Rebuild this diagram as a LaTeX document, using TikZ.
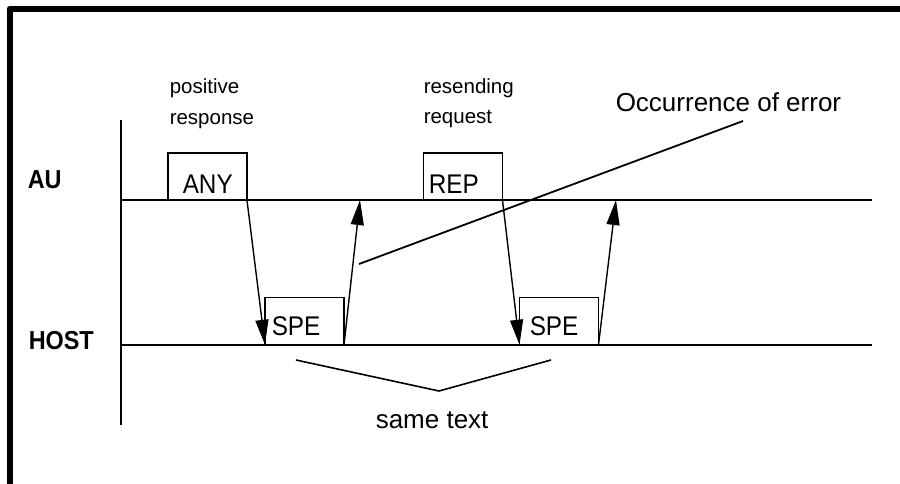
\documentclass[tikz,border=0pt]{standalone}
\usepackage{fontspec}
\setmainfont{Liberation Sans}
\usetikzlibrary{arrows.meta}
\newcommand{\cnd}[1]{\scalebox{0.9}[1]{#1}}
\begin{document}
\begin{tikzpicture}[x=1pt,y=-1pt, line width=1.5pt,
  box/.style={draw, line width=1.5pt, inner sep=0pt, outer sep=0pt, minimum width=79pt, minimum height=47.5pt},
  lbl/.style={inner sep=0pt, anchor=base west},
  side/.style={lbl, font=\bfseries\fontsize{26}{30}\selectfont},
  boxtext/.style={lbl, font=\fontsize{27}{30}\selectfont},
  note/.style={lbl, font=\fontsize{20.5}{24}\selectfont},
  big/.style={lbl, font=\fontsize{26}{30}\selectfont},
  msg/.style={-{Triangle[length=25pt,width=13pt]}, line width=1.4pt}]
\useasboundingbox (0,0) rectangle (900,483);
% frame
\draw[line width=6pt, line join=round] (9.5,495) -- (9.5,8.5) -- (910,8.5);
% axes
\coordinate (axtop) at (121,120);
\coordinate (axbot) at (121,425);
\coordinate (auL) at (121,200);
\coordinate (auR) at (872,200);
\coordinate (hoL) at (121,345);
\coordinate (hoR) at (872,345);
\draw (axtop) -- (axbot);
\draw (auL) -- (auR);
\draw (hoL) -- (hoR);
% side labels
\node[side] (au) at (27,188) {\cnd{AU}};
\node[side] (host) at (28,349) {\cnd{HOST}};
% boxes
\node[box] (any) at (207.5,176.5) {};
\node[box] (rep) at (463,176.5) {};
\node[box] (spe1) at (304.5,321) {};
\node[box] (spe2) at (559,321) {};
\node[boxtext] (anyt) at (182,193) {\cnd{ANY}};
\node[boxtext] (rept) at (428,193) {\cnd{REP}};
\node[boxtext] (spe1t) at (271,335) {\cnd{SPE}};
\node[boxtext] (spe2t) at (529,335) {\cnd{SPE}};
% notes
\node[note] (pos1) at (169,93) {positive};
\node[note] (pos2) at (169,124) {response};
\node[note] (res1) at (423,93) {resending};
\node[note] (res2) at (423,123) {request};
\node[big] (err) at (615,111) {Occurrence of error};
\node[big] (same) at (375,428) {same text};
% messages
\coordinate (r1) at (360,200);
\coordinate (r2) at (616,200);
\draw[msg] (any.south east) -- (spe1.south west);
\draw[msg] (spe1.south east) -- (r1);
\draw[msg] (rep.south east) -- (spe2.south west);
\draw[msg] (spe2.south east) -- (r2);
% error pointer
\coordinate (e1) at (359,264);
\coordinate (e2) at (743,121);
\draw[line width=1.8pt] (e1) -- (e2);
% bracket
\coordinate (b1) at (296,360);
\coordinate (b2) at (439,391);
\coordinate (b3) at (551,360);
\draw[line width=1.6pt] (b1) -- (b2) -- (b3);
\end{tikzpicture}
\end{document}
